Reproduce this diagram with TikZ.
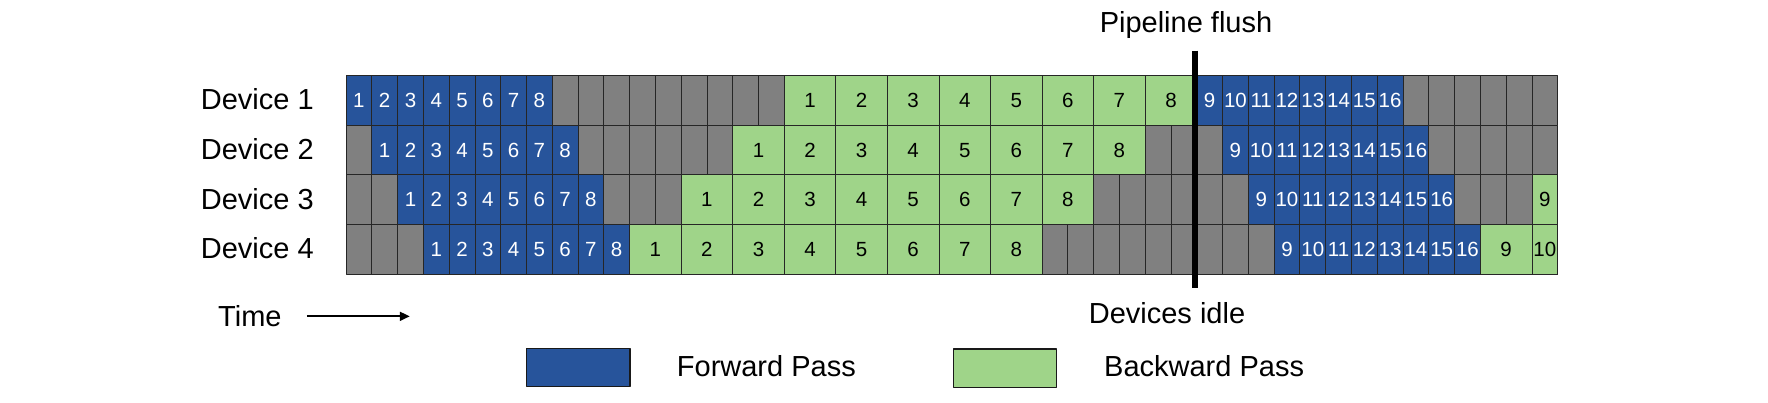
\documentclass[tikz,border=0pt]{standalone}
\usepackage{fontspec}
\usetikzlibrary{arrows.meta}
\setmainfont{Liberation Sans}
\definecolor{fwdblue}{RGB}{39,84,155}
\definecolor{bwdgreen}{RGB}{159,212,137}
\definecolor{idlegray}{RGB}{128,128,128}
\def\colw{25.78}
\def\rowh{49.6}
\begin{document}
\begin{tikzpicture}[x=1pt,y=1pt,line join=round,>={Triangle[length=10pt,width=9pt]},
	lbl/.style={font=\fontsize{29}{32}\selectfont,inner sep=0pt},
	cell/.style={draw=black!85,line width=0.8pt,inner sep=0pt,minimum height=\rowh pt,font=\fontsize{20.5}{22}\selectfont},
	idle/.style={cell,fill=idlegray,minimum width=\colw pt},
	fwd/.style={cell,fill=fwdblue,text=white,minimum width=\colw pt},
	bwd/.style={cell,fill=bwdgreen,minimum width=2*\colw pt}]
	\useasboundingbox (0,0) rectangle (1768,402);
	\foreach \d in {1,...,4}{
		\foreach \s in {0,...,46}
			\node[idle] (g\d-\s) at ({346+(\s+0.5)*\colw},{326.3-(\d-0.5)*\rowh}) {};
		\foreach \k in {1,...,8}{
			\node[fwd] (f\d-\k) at ({346+(\d+\k-1.5)*\colw},{326.3-(\d-0.5)*\rowh}) {\k};
			\node[bwd] (b\d-\k) at ({346+(18-2*\d+2*\k)*\colw},{326.3-(\d-0.5)*\rowh}) {\k};
		}
		\foreach \k in {9,...,16}
			\node[fwd] (f\d-\k) at ({346+(\d+\k+23.5)*\colw},{326.3-(\d-0.5)*\rowh}) {\k};
		\node[lbl,anchor=base west] (dev\d) at (200.7,{292-(\d-1)*\rowh}) {Device \d};
	}
	\node[bwd] (b4-9) at ({346+45*\colw},{326.3-3.5*\rowh}) {9};
	\node[bwd,minimum width=\colw pt] (b3-9) at ({346+46.5*\colw},{326.3-2.5*\rowh}) {9};
	\node[bwd,minimum width=\colw pt] (b4-10) at ({346+46.5*\colw},{326.3-3.5*\rowh}) {10};
	\coordinate (flushtop) at (1195,351.3);
	\coordinate (flushbot) at (1195,114.3);
	\draw[line width=5.5pt] (flushtop)--(flushbot);
	\node[lbl,anchor=base] (flush) at (1186,369) {Pipeline flush};
	\node[lbl,anchor=base] (idletxt) at (1167,78.7) {Devices idle};
	\node[lbl,anchor=base west] (time) at (218,75.3) {Time};
	\coordinate (timeend) at ([xshift=128pt]time.east);
	\draw[->,line width=1.8pt] ([xshift=25pt]time.east)--(timeend);
	\node[fwd,draw=black!90,line width=1.5pt,minimum width=103.3pt,minimum height=38.4pt] (fwdkey) at (578.35,34.5) {};
	\node[lbl,anchor=base west] (fwdtxt) at (676.7,26) {Forward Pass};
	\node[bwd,draw=black!90,line width=1.5pt,minimum width=103.4pt,minimum height=38.3pt] (bwdkey) at (1005,33.85) {};
	\node[lbl,anchor=base west] (bwdtxt) at (1104,25.3) {Backward Pass};
\end{tikzpicture}
\end{document}
